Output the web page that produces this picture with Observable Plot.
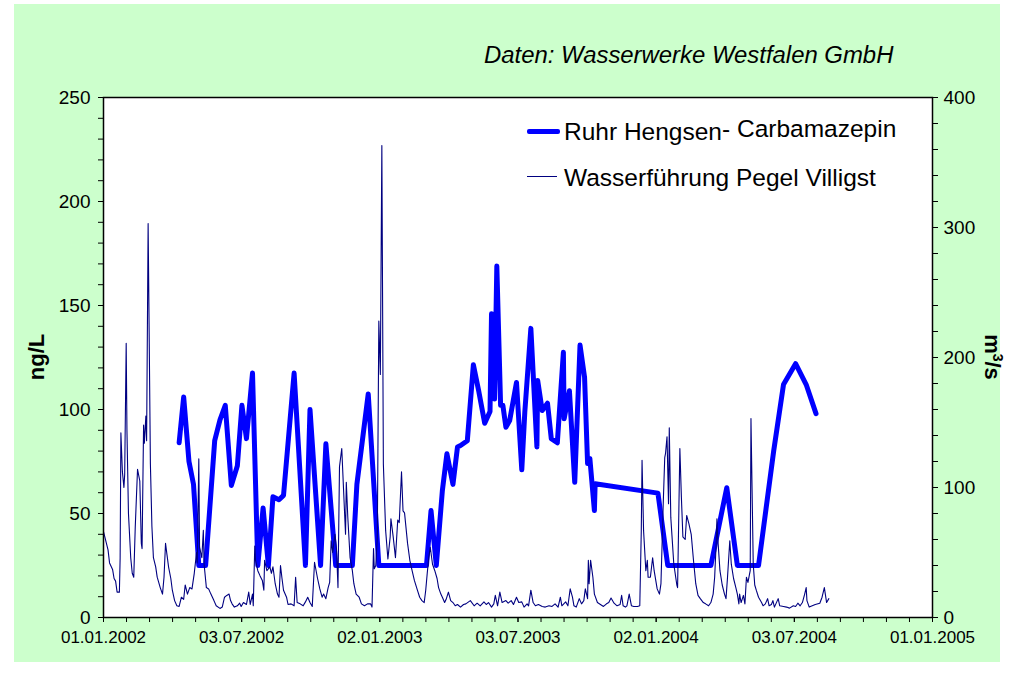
<!DOCTYPE html>
<html><head><meta charset="utf-8">
<script src="https://cdn.jsdelivr.net/npm/d3@7"></script>
<script src="https://cdn.jsdelivr.net/npm/@observablehq/plot@0.6"></script>
<style>
html,body{margin:0;padding:0;background:#fff;}
#wrap{position:relative;width:1011px;height:674px;overflow:hidden;font-family:"Liberation Sans",Arial,sans-serif;color:#000;}
#bg{position:absolute;left:14px;top:4px;width:986px;height:658px;background:#CCFFCC;}
#chart{position:absolute;left:0;top:0;}
.abs{position:absolute;white-space:nowrap;line-height:1;}
</style></head><body>
<div id="wrap">
<div id="bg"></div>
<div id="chart"></div>
<div class="abs" style="left:484px;top:43px;font-size:23.9px;font-style:italic;">Daten: Wasserwerke Westfalen GmbH</div>
<div class="abs" style="left:527px;top:129px;width:33px;height:5px;background:#0000FF;border-radius:2px;"></div>
<div class="abs" style="left:564px;top:120px;font-size:24.5px;">Ruhr Hengsen<span style="position:relative;top:-3px">- Carbamazepin</span></div>
<div class="abs" style="left:527px;top:176px;width:30px;height:1px;background:#000080;"></div>
<div class="abs" style="left:564px;top:166px;font-size:24.5px;">Wasserführung Pegel Villigst</div>
<div class="abs" style="left:37px;top:357px;font-size:22px;font-weight:bold;transform:translate(-50%,-50%) rotate(-90deg);">ng/L</div>
<div class="abs" style="left:993px;top:357px;font-size:22px;font-weight:bold;transform:translate(-50%,-50%) rotate(90deg);">m<sup style="font-size:14px">3</sup>/s</div>
</div>
<script>
// Ruhr Hengsen – Carbamazepin (ng/L), days since 01.01.2002
const carbaDays = [100,106,113,119,126,135,147,154,161,169,177,183,189,197,204,211,218,224,232,238,252,267,273,287,294,307,329,335,350,364,427,433,440,448,454,462,468,472,481,489,496,504,511,513,517,520,525,528,532,537,546,553,557,565,573,574,580,587,592,600,608,609,616,623,630,636,640,643,649,650,733,746,803,824,838,866,886,899,915,929,942];
const carbaValues = [84,106,75,64,25,25,85,95,102,63.5,73,102,86,117.5,25,52.7,25,58,56.6,58.7,117.5,25,100,25,83.5,25,25,64,107.5,25,25,51.4,25,61,78.7,64,82,82.7,85,121.5,109,93.4,99,146,105,169,102,102,91.5,94.7,113,71,98.7,139,82,114,99.5,103,86,84,127.5,95.5,109,65,131,115.5,74,76.4,51.4,64.3,59.8,25,25,62.4,25,25,80,112,122,112,98];

// Wasserführung Pegel Villigst (m³/s), days since 01.01.2002
const flowDays = [0,6,8,12,14,16,18,21,22,23,25,27,28,30,31,33,36,38,40,42,45,48,50,51,53,54,56,57,59,62,64,66,69,71,73,75,78,80,82,84,86,89,91,94,97,100,103,106,108,111,114,117,120,123,124,126,127,130,132,133,136,139,142,146,149,154,157,160,163,166,168,170,173,177,180,182,185,189,192,194,197,198,200,201,204,207,210,212,213,216,220,222,224,227,230,232,234,236,238,242,244,248,252,254,256,260,264,267,270,273,276,279,283,286,289,291,294,297,299,301,303,306,308,310,312,315,318,320,321,323,326,329,331,334,338,341,345,349,353,355,357,358,360,362,364,366,368,370,373,376,379,380,383,386,389,391,394,396,398,402,405,408,411,415,418,421,424,426,428,430,432,435,438,441,443,446,448,451,453,456,459,462,465,468,472,476,479,485,490,494,498,503,506,509,513,516,518,521,524,527,532,535,539,542,546,549,553,556,560,562,565,568,571,575,580,584,589,593,597,601,604,606,611,614,617,620,622,625,629,632,635,637,640,641,642,644,647,649,653,657,661,665,668,671,675,679,683,685,687,690,692,695,698,701,706,709,711,712,714,717,719,720,723,726,728,732,735,737,740,742,743,745,747,748,750,754,758,759,762,764,766,769,771,774,777,780,783,786,789,793,796,800,803,806,808,810,811,812,815,818,821,823,825,828,830,833,836,838,840,841,843,846,848,850,852,855,856,859,861,863,866,870,872,875,878,880,883,885,887,892,894,899,903,907,912,915,918,921,924,927,929,930,933,937,941,947,950,953,956,959];
const flowValues = [66,52,42,37,30,28,19.5,19.5,46,142,112,100,110,211,144,80,46,34,31,70,114,105,57,53,148,134,155,136,303,118,70,46,39,31,27,23,18,31,57,48,39,30,21,13,9,8.5,15.6,14,25,18,23,22,34,50,42,122,54,46,67,41,23,22,18,13,9,7,8,15.6,17,18,13,10.5,8,9,11,8.5,11.5,10,19.5,10,18,9,55,44,36,32,28.5,21,44,36,39,34,39,26,18,15.6,40,30,21,15.6,10,10.5,9,31,11.5,10.5,9,12,15.6,11.5,8.5,42.5,30,22,15.6,18,14.5,23,27,59,50,64,53,23,116,130,90,64,104,77,46,36,26,18,15.6,10.5,9,10.5,10.5,8,53,37.5,40,62,228,187,363,118,67,45,62,76,62,46,75,73,112,82,80.5,57,44,36,28.5,21,15.6,13,11.5,21,34,46,54,41,36,30,23,18,15.6,11.5,14,19.5,13,11.5,9,10,8,10,10.5,13,9,11,9,12,10,11.5,8,10.5,17,9,19.5,11.5,13,11,13,10,15.6,11.5,12,8,10.5,9,21,11.5,9,10,8.5,8,9,8.5,10.5,8,15.6,9,12,9,22,15.6,9,8,14.5,10.5,13,22,14.5,44,26,44,31,18,11.5,10,8.5,10.5,11.5,15,11,9,10,17,9,8,9,18,9,8.5,8.5,9,67,121,67,36,44,31,31,46,36,22,18,26,87.5,123,126,139,87.5,146,77,41,25,23,130,92.6,62,60,78.5,72,64,44,26,17,14.5,11.5,10.5,9,11.5,18,31,57,76,62,36,25,18,14.5,31,59,41,30,23,18,10.5,18,11.5,17,10.5,31,27,36,153,41,25,21,15.6,11.5,9,10.5,14.5,9,10,13,8,14.5,9,8.5,8,7.2,9,8.5,11,9,11.5,18,23,13,8,9,10,11,15.6,23,11.5,14.5];

const xTickLabels = ["01.01.2002","03.07.2002","02.01.2003","03.07.2003","02.01.2004","03.07.2004","01.01.2005"];
const leftTicks = [0,50,100,150,200,250];
const rightTicks = [0,100,200,300,400];

const start = Date.UTC(2002,0,1);
const spanDays = 1096;
const toDate = d => new Date(start + d*864e5);
const k = 250/400; // right axis (m³/s) mapped onto left axis (ng/L)

const carba = carbaDays.map((d,i)=>({date:toDate(d), v:carbaValues[i]}));
const flow = flowDays.map((d,i)=>({date:toDate(d), q:flowValues[i]*k}));

const majorTicks = xTickLabels.map((_,i)=>toDate(i*spanDays/6));
const minorTicks = d3.range(37).map(i=>toDate(i*spanDays/36));
const labelMap = new Map(majorTicks.map((d,i)=>[+d, xTickLabels[i]]));

const chart = Plot.plot({
  width:1011, height:674,
  marginLeft:103, marginRight:79, marginTop:97, marginBottom:57,
  style:{background:"transparent", fontFamily:"Liberation Sans, Arial, sans-serif", fontSize:"17px", color:"#000"},
  x:{type:"utc", domain:[toDate(0), toDate(spanDays)]},
  y:{domain:[0,250]},
  marks:[
    Plot.frame({fill:"white", stroke:"none"}),
    Plot.line(carba, {x:"date", y:"v", stroke:"#0000FF", strokeWidth:5, strokeLinejoin:"round", strokeLinecap:"round"}),
    Plot.line(flow, {x:"date", y:"q", stroke:"#000080", strokeWidth:1.1}),
    Plot.frame({stroke:"#000", strokeWidth:1.5}),
    Plot.axisX({ticks:minorTicks, tickSize:5, tickFormat:()=>"", label:null, stroke:"#000"}),
    Plot.axisX({ticks:majorTicks, tickSize:5, tickPadding:8, tickFormat:d=>labelMap.get(+d), label:null, fontSize:17}),
    Plot.axisY({anchor:"left", ticks:d3.range(0,251,10), tickSize:5, tickFormat:()=>"", label:null}),
    Plot.axisY({anchor:"left", ticks:leftTicks, tickSize:5, tickPadding:8, label:null, fontSize:19}),
    Plot.axisY({anchor:"right", ticks:d3.range(0,401,20).map(v=>v*k), tickSize:5, tickFormat:()=>"", label:null}),
    Plot.axisY({anchor:"right", ticks:rightTicks.map(v=>v*k), tickFormat:d=>Math.round(d/k), tickSize:5, tickPadding:6, label:null, fontSize:19})
  ]
});
document.getElementById("chart").appendChild(chart);
</script>
</body></html>
